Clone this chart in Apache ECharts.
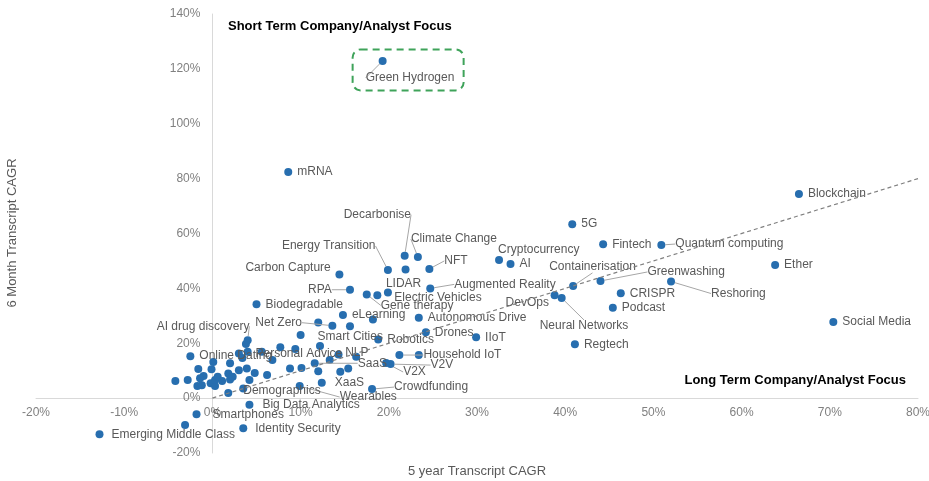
<!DOCTYPE html>
<html>
<head>
<meta charset="utf-8">
<script src="https://cdn.jsdelivr.net/npm/echarts@6/dist/echarts.min.js"></script>
<style>
    html, body { margin: 0; padding: 0; background: #fff; }
    #chart { width: 929px; height: 481px; }
</style>
</head>
<body>
<div id="chart"></div>
<script>
// labelled topics: 5 year transcript CAGR (x) vs 6 month transcript CAGR (y), in %
var topics = ['Green Hydrogen', 'mRNA', 'Blockchain', 'Ether', 'Social Media', '5G', 'Fintech',
    'Quantum computing', 'Cryptocurrency', 'AI', 'Containerisation', 'Greenwashing', 'Reshoring',
    'CRISPR', 'Podcast', 'DevOps', 'Neural Networks', 'Regtech', 'Augmented Reality', 'LIDAR',
    'Electric Vehicles', 'Gene therapy', 'RPA', 'Carbon Capture', 'Energy Transition', 'Decarbonise',
    'Climate Change', 'NFT', 'Biodegradable', 'eLearning', 'Autonomous Drive', 'Drones', 'IIoT',
    'Robotics', 'Smart Cities', 'Net Zero', 'AI drug discovery', 'Online Dating', 'Personal Advice',
    'NLP', 'SaaS', 'V2V', 'V2X', 'Household IoT', 'XaaS', 'Crowdfunding', 'Wearables', 'Demographics',
    'Big Data Analytics', 'Smartphones', 'Identity Security', 'Emerging Middle Class']
var fiveYear = [19.3, 8.6, 66.5, 63.8, 70.4, 40.8, 44.3,
    50.9, 32.5, 33.8, 40.9, 44.0, 52.0,
    46.3, 45.4, 38.8, 39.6, 41.1, 24.7, 19.9,
    18.7, 17.5, 15.6, 14.4, 19.9, 21.8,
    23.3, 24.6, 5.0, 14.8, 23.4, 24.2, 29.9,
    18.8, 10.0, 13.6, 4.0, -2.5, 14.3,
    16.3, 11.6, 20.2, 19.7, 21.2, 12.4, 18.1, 9.9, 1.8,
    4.2, -1.8, 3.5, -12.8]
var sixMonth = [122.9, 82.4, 74.4, 48.5, 27.7, 63.4, 56.1,
    55.8, 50.3, 48.9, 40.9, 42.7, 42.5,
    38.2, 32.9, 37.5, 36.5, 19.6, 40.0, 38.5,
    37.5, 37.8, 39.5, 45.1, 46.7, 51.9,
    51.4, 47.1, 34.2, 30.3, 29.3, 24.0, 22.2,
    21.4, 23.0, 26.4, 21.1, 15.3, 15.9,
    15.1, 12.7, 12.4, 12.8, 15.7, 5.6, 3.3, 4.4, 1.9,
    -2.4, -5.9, -11.0, -13.2]

// unlabelled topics
var otherFiveYear = [23.4, 21.9, 18.2, 15.6, 12.0, 3.8, -3.1, 12.2, 13.3, 12.0, 14.5, 15.4,
    5.6, 7.7, 9.4, 6.8, 8.8, 10.1, 6.2, 4.8, 4.2, 0.1, 2.0, 3.0, 3.4, 4.0,
    -1.6, -0.1, 3.9, 3.0, 1.8, -1.0, -4.2, -2.8, -1.4, -1.7, -1.2, -0.2, 0.3, 0.3,
    0.6, 1.1, 2.0, 2.3, 3.5]
var otherSixMonth = [15.7, 46.9, 28.7, 26.2, 27.6, 19.7, -9.8, 19.0, 13.9, 9.8, 9.6, 10.8,
    16.9, 18.5, 17.9, 13.9, 10.8, 11.0, 8.4, 9.2, 6.6, 13.2, 12.7, 16.3, 14.6, 16.9,
    10.6, 10.5, 10.8, 10.2, 9.0, 8.1, 6.2, 6.6, 7.2, 4.4, 4.7, 5.4, 4.4, 6.6,
    7.8, 6.2, 6.8, 7.8, 3.5]

// dashed reference line
var trendX = [0, 80]
var trendY = [0, 80]

// label nudges [dx, dy, leader line]
var labelShift = {
    'Green Hydrogen': [-26, 17, true],
    'Cryptocurrency': [-10, -10, false],
    'Containerisation': [-33, -19, true],
    'Greenwashing': [38, -9, true],
    'Reshoring': [31, 12, true],
    'Quantum computing': [5, -1, true],
    'DevOps': [-58, 7, false],
    'Neural Networks': [-31, 28, true],
    'Augmented Reality': [15, -4, true],
    'LIDAR': [-11, -9, false],
    'Electric Vehicles': [8, 2, false],
    'Gene therapy': [5, 11, true],
    'RPA': [-51, 0, true],
    'Carbon Capture': [-103, -7, false],
    'Energy Transition': [-115, -24, true],
    'Decarbonise': [-70, -41, true],
    'Climate Change': [-16, -18, true],
    'NFT': [6, -8, true],
    'Smart Cities': [8, 2, false],
    'Net Zero': [-86, -3, true],
    'AI drug discovery': [-100, -14, true],
    'Personal Advice': [-92, -1, false],
    'NLP': [-20, -4, false],
    'SaaS': [34, 0, true],
    'V2V': [31, 1, true],
    'V2X': [8, 9, true],
    'Household IoT': [15, 0, true],
    'XaaS': [4, 0, false],
    'Crowdfunding': [13, -2, true],
    'Wearables': [31, 11, true],
    'Demographics': [6, -2, false],
    'Big Data Analytics': [4, 0, false],
    'Smartphones': [7, 0, false],
    'Identity Security': [3, 0, false],
    'Emerging Middle Class': [3, 0, false]
}

var dotColor = '#276eaf'
var fontFamily = '"Liberation Sans", Arial, sans-serif'

var chart = echarts.init(document.getElementById('chart'))

var labelled = topics.map(function (name, i) {
    var s = labelShift[name]
    return {
        name: name,
        value: [fiveYear[i], sixMonth[i]],
        labelLine: {show: !!(s && s[2])}
    }
})

var others = otherFiveYear.map(function (x, i) {
    return [x, otherSixMonth[i]]
})

// grid edges in px; the axes sit on the zero lines via offset
var gridBox = {left: 36, right: 11, top: 14, bottom: 28}
var plotW = 929 - gridBox.left - gridBox.right
var plotH = 481 - gridBox.top - gridBox.bottom
var xOffset = -plotH * (0 - (-20)) / (140 - (-20))
var yOffset = -plotW * (0 - (-20)) / (80 - (-20))

var option = {
    animation: false,
    grid: {
        left: gridBox.left, right: gridBox.right, top: gridBox.top, bottom: gridBox.bottom,
        containLabel: false, outerBoundsMode: 'none'
    },
    xAxis: {
        type: 'value',
        min: -20,
        max: 80,
        interval: 10,
        position: 'bottom',
        offset: xOffset,
        axisLine: {onZero: false, lineStyle: {color: '#d9d9d9', width: 1}},
        axisTick: {show: false},
        splitLine: {show: false},
        axisLabel: {formatter: '{value}%', color: '#808080', fontSize: 12, margin: 9, fontFamily: fontFamily}
    },
    yAxis: {
        type: 'value',
        min: -20,
        max: 140,
        interval: 20,
        position: 'left',
        offset: yOffset,
        axisLine: {onZero: false, lineStyle: {color: '#d9d9d9', width: 1}},
        axisTick: {show: false},
        splitLine: {show: false},
        axisLabel: {formatter: '{value}%', color: '#808080', fontSize: 12, margin: 12, fontFamily: fontFamily}
    },
    series: [
        {
            type: 'line',
            data: trendX.map(function (x, i) { return [x, trendY[i]] }),
            symbol: 'none',
            silent: true,
            z: 5,
            lineStyle: {color: '#808080', width: 1.2, type: [4, 3]}
        },
        {
            type: 'scatter',
            data: others,
            symbolSize: 8,
            itemStyle: {color: dotColor, opacity: 1},
            z: 3
        },
        {
            type: 'scatter',
            data: labelled,
            symbolSize: 8,
            itemStyle: {color: dotColor, opacity: 1},
            z: 4,
            label: {
                show: true,
                position: 'right',
                distance: 5,
                formatter: '{b}',
                color: '#595959',
                fontSize: 12,
                fontFamily: fontFamily
            },
            labelLine: {
                show: false,
                lineStyle: {color: '#a6a6a6', width: 1}
            },
            labelLayout: function (params) {
                var s = labelShift[topics[params.dataIndex]]
                if (!s) return {}
                return {dx: s[0], dy: s[1]}
            }
        }
    ]
}

chart.setOption(option)

// highlight box round Green Hydrogen and the text notes
var gh = topics.indexOf('Green Hydrogen')
var p = chart.convertToPixel({gridIndex: 0}, [fiveYear[gh], sixMonth[gh]])

chart.setOption({
    graphic: [
        {
            type: 'rect',
            shape: {x: p[0] - 30, y: p[1] - 11.5, width: 111, height: 41, r: 8},
            style: {fill: 'none', stroke: '#3fa35a', lineWidth: 2, lineDash: [7, 5]},
            silent: true
        },
        {
            type: 'text',
            left: 228,
            top: 20,
            style: {text: 'Short Term Company/Analyst Focus', fill: '#000', font: 'bold 13px ' + fontFamily}
        },
        {
            type: 'text',
            right: 23,
            top: 374,
            style: {text: 'Long Term Company/Analyst Focus', fill: '#000', font: 'bold 13px ' + fontFamily}
        },
        {
            type: 'text',
            x: 12,
            y: 233,
            rotation: Math.PI / 2,
            style: {
                text: '6 Month Transcript CAGR', fill: '#595959',
                font: '13px ' + fontFamily, align: 'center', verticalAlign: 'middle'
            }
        },
        {
            type: 'text',
            x: 477,
            y: 471,
            style: {
                text: '5 year Transcript CAGR', fill: '#595959',
                font: '13px ' + fontFamily, align: 'center', verticalAlign: 'middle'
            }
        }
    ]
})
</script>
</body>
</html>
